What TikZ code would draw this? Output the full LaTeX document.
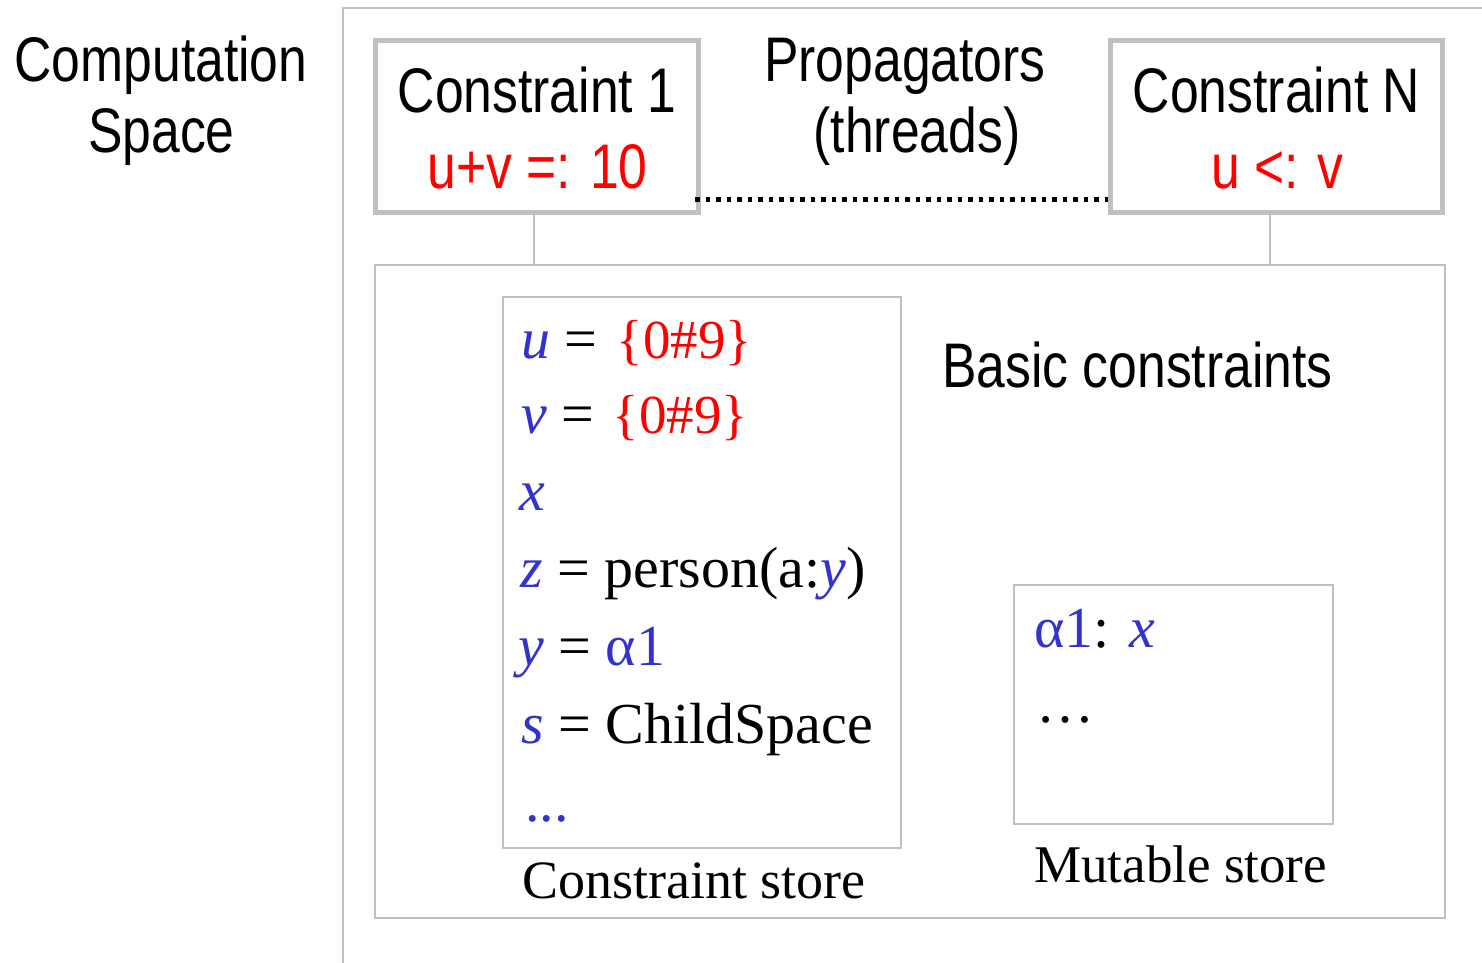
\documentclass[tikz,border=0pt]{standalone}
\usepackage{fontspec}
\setmainfont{Liberation Serif}
\newfontfamily\narrowsans[FakeStretch=0.82]{Liberation Sans}
\definecolor{framegray}{RGB}{192,192,192}
\definecolor{varblue}{RGB}{51,51,204}
\definecolor{valred}{RGB}{255,0,0}
\newcommand{\vb}[1]{\textcolor{varblue}{\textit{#1}}}
\newcommand{\dom}{{\color{valred}\fontsize{55}{60}\selectfont\{0\#9\}}}

\begin{document}
\begin{tikzpicture}[x=1pt,y=-1pt,
  sanslbl/.style={inner sep=0pt, anchor=base, font=\narrowsans\fontsize{63}{70}\selectfont},
  storeline/.style={inner sep=0pt, anchor=base west, font=\fontsize{58}{64}\selectfont},
  caption/.style={inner sep=0pt, anchor=base west, font=\fontsize{54}{60}\selectfont},
  propbox/.style={draw=framegray, line width=5pt, fill=white, inner sep=0pt},
  storebox/.style={draw=framegray, line width=2pt, inner sep=0pt},
  link/.style={draw=framegray, line width=2pt},
  dotline/.style={draw=black, line width=5pt, dash pattern=on 4.5pt off 6pt}]
\useasboundingbox (0,0) rectangle (1482,963);

% frame of the computation space
\draw[link] (343,963) -- (343,8) -- (1482,8);

% boxes
\node[storebox, minimum width=1070pt, minimum height=653pt] (basic) at (910,591.5) {};
\node[storebox, minimum width=398pt, minimum height=551pt] (cstore) at (702,572.5) {};
\node[storebox, minimum width=319pt, minimum height=239pt] (mstore) at (1173.5,704.5) {};
\node[propbox, minimum width=323pt, minimum height=172pt] (c1) at (537,126.5) {};
\node[propbox, minimum width=332pt, minimum height=172pt] (cN) at (1276.5,126.5) {};

% connectors
\draw[link] ([xshift=-3pt]c1.south) -- ([xshift=-3pt]c1.south |- basic.north);
\draw[link] ([xshift=-6.5pt]cN.south) -- ([xshift=-6.5pt]cN.south |- basic.north);
\draw[dotline] ([xshift=-6pt,yshift=16pt]c1.south east) -- ([yshift=16pt]cN.south west);

% headings
\node[sanslbl] (cs1) at (161,82) {Computation};
\node[sanslbl] (cs2) at (161.5,153) {Space};
\node[sanslbl] (pr1) at (905,82) {Propagators};
\node[sanslbl] (pr2) at (917,153) {(threads)};
\node[sanslbl] (c1a) at (537,113) {Constraint 1};
\node[sanslbl, text=valred] (c1b) at (537.5,188) {u+v =: 10};
\node[sanslbl] (cNa) at (1276.5,113) {Constraint N};
\node[sanslbl, text=valred] (cNb) at (1277.5,188) {u <: v};
\node[sanslbl, anchor=base west] (bc) at (942,387) {Basic constraints};

% constraint store contents
\node[storeline] (l1) at (521,358) {\vb{u} = \kern5pt\dom};
\node[storeline] (l2) at (521,433) {\vb{v} = \kern4pt\dom};
\node[storeline] (l3) at (519,510) {\vb{x}};
\node[storeline] (l4) at (520,587) {\vb{z} = person(a:\vb{y})};
\node[storeline] (l5) at (518,665) {\vb{y} = \textcolor{varblue}{α1}};
\node[storeline] (l6) at (521,743) {\vb{s} = ChildSpace};
\node[storeline, text=varblue] (l7) at (525,821) {...};
\node[caption] (csl) at (522,898) {Constraint store};

% mutable store contents
\node[storeline] (m1) at (1034,647) {\textcolor{varblue}{α1}: \vb{x}};
\node[storeline] (m2) at (1036,722) {…};
\node[caption, font=\fontsize{53}{60}\selectfont] (msl) at (1034,882) {Mutable store};
\end{tikzpicture}
\end{document}
